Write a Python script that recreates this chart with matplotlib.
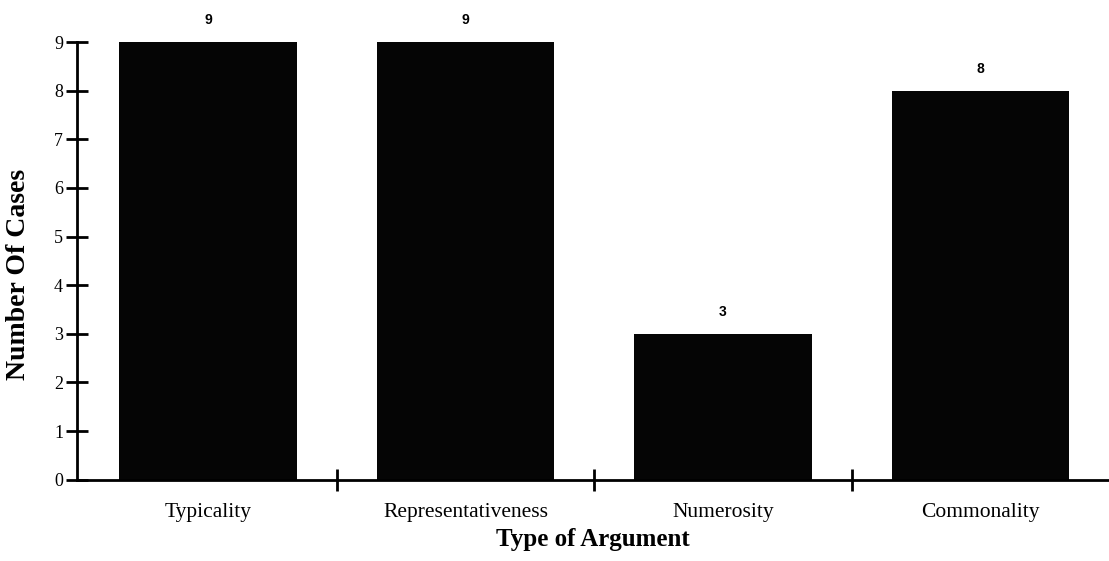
import numpy as np
import matplotlib.pyplot as plt
from matplotlib.ticker import FixedLocator

categories = ['Typicality', 'Representativeness', 'Numerosity', 'Commonality']
cases = [9, 9, 3, 8]

plt.rcParams['font.family'] = 'Liberation Serif'

fig = plt.figure(figsize=(11.09, 5.61), dpi=100)
ax = fig.add_axes([0.0694, 0.145, 0.9306, 0.78])

x = np.arange(len(categories))
ax.bar(x, cases, width=0.69, color='#050505', edgecolor='none', zorder=2)

for xi, v in zip(x, cases):
    ax.text(xi, v + 0.3, str(v), ha='center', va='bottom', fontsize=10,
            family='Liberation Sans', fontweight='bold')

ax.set_xlim(-0.51, 3.5)
ax.set_ylim(0, 9)
ax.set_yticks(range(10))
ax.set_xticks(x)
ax.set_xticklabels(categories, fontsize=15.5)
ax.xaxis.set_minor_locator(FixedLocator([0.5, 1.5, 2.5]))
ax.tick_params(axis='x', which='major', length=0, pad=17)
ax.tick_params(axis='x', which='minor', direction='inout', length=16, width=2)
ax.tick_params(axis='y', direction='inout', length=16, width=2, labelsize=13, pad=2)

for s in ['top', 'right']:
    ax.spines[s].set_visible(False)
ax.spines['left'].set_linewidth(2)
ax.spines['bottom'].set_linewidth(2)

ax.set_xlabel('Type of Argument', fontsize=18, fontweight='bold', labelpad=4)
ax.set_ylabel('Number Of Cases', fontsize=20, fontweight='bold')
ax.yaxis.set_label_coords(-0.045, 0.47)

fig.savefig('out.png', dpi=100)
